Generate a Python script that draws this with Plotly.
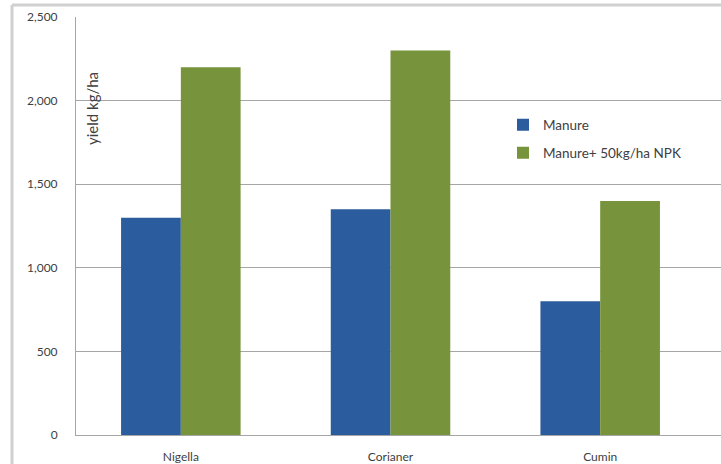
import plotly.graph_objects as go

categories = ["Nigella", "Corianer", "Cumin"]
manure = [1300, 1350, 800]
manure_npk = [2200, 2300, 1400]
series_names = ["Manure", "Manure+ 50kg/ha NPK"]
y_ticks = [0, 500, 1000, 1500, 2000, 2500]
y_tick_labels = ["0", "500", "1,000", "1,500", "2,000", "2,500"]

W, H = 721, 464
ml, mr, mt, mb = 76, 0, 17, 29
PW, PH = W - ml - mr, H - mt - mb

fig = go.Figure()
fig.add_trace(go.Bar(x=categories, y=manure, name=series_names[0],
                     marker=dict(color="#2b5c9d", line=dict(width=0)),
                     legend="legend", showlegend=True))
fig.add_trace(go.Bar(x=categories, y=manure_npk, name=series_names[1],
                     marker=dict(color="#77933c", line=dict(width=0)),
                     legend="legend2", showlegend=True))

tick_font = dict(family="Lato, Open Sans, sans-serif", size=12, color="#404040")
leg_font = dict(family="Lato, Open Sans, sans-serif", size=13.5, color="#404040")

fig.update_layout(
    width=W, height=H,
    margin=dict(l=ml, r=mr, t=mt, b=mb),
    paper_bgcolor="white", plot_bgcolor="white",
    barmode="group", bargap=0.43, bargroupgap=0,
    showlegend=True,
    font=tick_font,
    legend=dict(x=(503 - ml) / PW, y=1 - (125 - mt) / PH,
                xanchor="left", yanchor="middle", bgcolor="rgba(0,0,0,0)",
                font=leg_font, borderwidth=0),
    legend2=dict(x=(503 - ml) / PW, y=1 - (153 - mt) / PH,
                 xanchor="left", yanchor="middle", bgcolor="rgba(0,0,0,0)",
                 font=leg_font, borderwidth=0),
    xaxis=dict(type="category", range=[-0.5, 2.5 + 16 / 210],
               showline=True, linecolor="#a6a6a6", linewidth=1,
               ticks="", showgrid=False, ticklabelstandoff=11,
               tickfont=tick_font),
    yaxis=dict(range=[0, 2500], tickvals=y_ticks, ticktext=y_tick_labels,
               showline=True, linecolor="#a6a6a6", linewidth=1,
               showgrid=True, gridcolor="#a6a6a6", gridwidth=1,
               ticks="", ticklabelstandoff=15, zeroline=False,
               tickfont=tick_font),
    annotations=[dict(text="yield kg/ha", xref="paper", yref="paper",
                      x=(92 - ml) / PW, y=1 - (109 - mt) / PH,
                      xanchor="center", yanchor="middle",
                      textangle=-90, showarrow=False,
                      font=dict(family="Lato, Open Sans, sans-serif", size=15, color="#404040"))],
    shapes=[
        dict(type="line", xref="paper", yref="paper",
             x0=(12 - ml) / PW, x1=(W + 5 - ml) / PW,
             y0=1 + (mt - 5) / PH, y1=1 + (mt - 5) / PH,
             line=dict(color="#d0d0d0", width=3)),
        dict(type="line", xref="paper", yref="paper",
             x0=(12 - ml) / PW, x1=(12 - ml) / PW,
             y0=1 + (mt - 5) / PH, y1=-(mb + 5) / PH,
             line=dict(color="#d0d0d0", width=3)),
    ],
)

fig.write_html("out.html")
